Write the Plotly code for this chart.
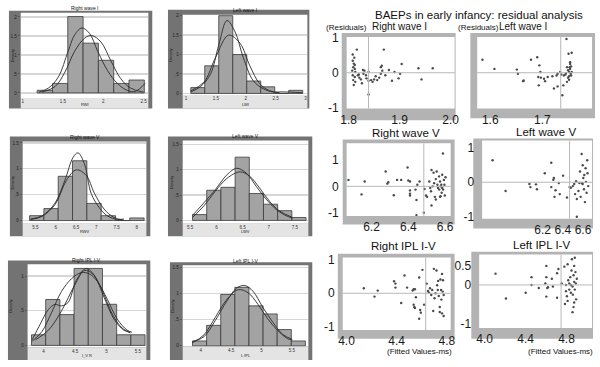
import plotly.graph_objects as go

# ---------------- data: histograms (density) ----------------
hist_titles = ["Right wave I", "Left wave I", "Right wave V", "Left wave V", "Right IPL I-V", "Left IPL I-V"]
hist_xtitles = ["RWI", "LWI", "RWV", "LWV", "I_V R", "L IPL"]

rw1_edges = [1.18, 1.37, 1.56, 1.75, 1.94, 2.13, 2.32, 2.51]
rw1_dens = [0.07, 0.25, 2.01, 1.31, 0.86, 0.25, 0.34]
rw1_c1x = [1.199, 1.321, 1.443, 1.565, 1.646, 1.736, 1.829, 1.931, 2.053, 2.175, 2.297, 2.398, 2.520]
rw1_c1y = [0.02, 0.13, 0.42, 1.10, 1.53, 1.71, 1.57, 1.10, 0.59, 0.25, 0.07, 0.04, 0.25]
rw1_c2x = [1.240, 1.403, 1.525, 1.646, 1.768, 1.858, 1.972, 2.094, 2.216, 2.338, 2.500]
rw1_c2y = [0.02, 0.17, 0.55, 1.10, 1.44, 1.51, 1.34, 0.85, 0.38, 0.13, 0.02]

lw1_edges = [1.08, 1.314, 1.548, 1.782, 2.016, 2.25, 2.484, 2.718, 2.952]
lw1_dens = [0.15, 0.71, 2.0, 1.0, 0.32, 0.17, 0.0, 0.08]
lw1_c1x = [1.082, 1.247, 1.411, 1.548, 1.685, 1.822, 1.959, 2.123, 2.288, 2.452, 2.616, 2.945]
lw1_c1y = [0.04, 0.18, 0.50, 1.25, 1.875, 1.58, 0.92, 0.33, 0.125, 0.04, 0.04, 0.02]
lw1_c2x = [1.082, 1.301, 1.493, 1.712, 1.904, 2.068, 2.233, 2.397, 2.562]
lw1_c2y = [0.07, 0.29, 0.92, 1.50, 1.29, 0.71, 0.25, 0.07, 0.02]

rw5_edges = [5.355, 5.708, 6.061, 6.414, 6.767, 7.12, 7.473, 7.826, 8.179]
rw5_dens = [0.094, 0.231, 0.856, 1.156, 0.331, 0.094, 0.0, 0.05]
rw5_c1x = [5.379, 5.661, 5.984, 6.226, 6.427, 6.548, 6.710, 6.871, 7.073, 7.274, 7.516, 7.677]
rw5_c1y = [0.03, 0.09, 0.34, 0.78, 1.22, 1.31, 1.09, 0.53, 0.25, 0.09, 0.02, 0.03]
rw5_c2x = [5.379, 5.661, 5.984, 6.266, 6.508, 6.750, 6.952, 7.194, 7.435, 7.677]
rw5_c2y = [0.02, 0.08, 0.31, 0.78, 0.98, 0.875, 0.53, 0.22, 0.06, 0.01]

lw5_edges = [5.544, 5.815, 6.086, 6.357, 6.628, 6.899, 7.17, 7.441, 7.712]
lw5_dens = [0.115, 0.596, 0.654, 1.25, 0.532, 0.32, 0.192, 0.058]
lw5_c1x = [5.544, 5.763, 5.981, 6.200, 6.388, 6.575, 6.763, 6.950, 7.138, 7.356, 7.450]
lw5_c1y = [0.10, 0.35, 0.61, 0.90, 1.03, 0.93, 0.67, 0.42, 0.22, 0.08, 0.05]
lw5_c2x = [5.544, 5.763, 5.981, 6.200, 6.450, 6.638, 6.825, 7.013, 7.200, 7.450]
lw5_c2y = [0.06, 0.29, 0.58, 0.83, 0.96, 0.87, 0.64, 0.38, 0.19, 0.06]

ripl_edges = [3.807, 4.033, 4.259, 4.485, 4.711, 4.937, 5.163, 5.389, 5.615]
ripl_dens = [0.153, 0.662, 0.444, 1.11, 1.11, 0.593, 0.153, 0.153]
ripl_c1x = [3.818, 3.948, 4.078, 4.182, 4.286, 4.391, 4.521, 4.677, 4.807, 4.964, 5.120, 5.276, 5.380]
ripl_c1y = [0.08, 0.31, 0.52, 0.59, 0.57, 0.62, 0.94, 1.11, 1.01, 0.69, 0.38, 0.22, 0.19]
ripl_c2x = [3.818, 3.974, 4.130, 4.286, 4.443, 4.599, 4.729, 4.859, 5.016, 5.172, 5.328, 5.406]
ripl_c2y = [0.06, 0.20, 0.48, 0.78, 0.96, 1.05, 1.03, 0.92, 0.66, 0.38, 0.22, 0.19]
ripl_c3x = [3.870, 4.078, 4.286, 4.495, 4.651, 4.781, 4.938, 5.094, 5.250, 5.380]
ripl_c3y = [0.08, 0.22, 0.50, 0.87, 1.08, 1.03, 0.78, 0.45, 0.25, 0.18]

lipl_edges = [3.866, 4.098, 4.33, 4.562, 4.794, 5.026, 5.258, 5.49, 5.722]
lipl_dens = [0.094, 0.394, 0.988, 1.125, 0.769, 0.613, 0.313, 0.094]
lipl_c1x = [3.866, 4.054, 4.242, 4.430, 4.591, 4.726, 4.860, 5.022, 5.183, 5.344, 5.505]
lipl_c1y = [0.08, 0.175, 0.49, 0.86, 1.11, 1.16, 1.05, 0.74, 0.46, 0.225, 0.125]
lipl_c2x = [3.866, 4.054, 4.242, 4.430, 4.618, 4.780, 4.941, 5.102, 5.263, 5.425, 5.505]
lipl_c2y = [0.06, 0.21, 0.55, 0.89, 1.08, 1.02, 0.80, 0.52, 0.30, 0.14, 0.11]

hist_x_ticks = [[1, 1.5, 2, 2.5], [1, 1.5, 2, 2.5, 3], [5.5, 6, 6.5, 7, 7.5, 8],
                [5.5, 6, 6.5, 7, 7.5], [4, 4.5, 5, 5.5], [4, 4.5, 5, 5.5]]
hist_x_ticktext = [["1", "1.5", "2", "2.5"], ["1", "1.5", "2", "2.5", "3"], ["5.5", "6", "6.5", "7", "7.5", "8"],
                   ["5.5", "6", "6.5", "7", "7.5"], ["4", "4.5", "5", "5.5"], ["4", "4.5", "5", "5.5"]]
hist_y_ticks = [[0, 0.5, 1, 1.5, 2], [0, 0.5, 1, 1.5, 2], [0, 0.5, 1, 1.5],
                [0, 0.5, 1, 1.5], [0, 0.5, 1], [0, 0.5, 1, 1.5]]
hist_y_ticktext = [["0", ".5", "1", "1.5", "2"], ["0", ".5", "1", "1.5", "2"], ["0", ".5", "1", "1.5"],
                   ["0", ".5", "1", "1.5"], ["0", ".5", "1"], ["0", ".5", "1", "1.5"]]

# ---------------- data: residual scatter plots ----------------
scatter_titles = ["Right wave I", "Left wave I", "Right wave V", "Left wave V", "Right IPL I-V", "Left IPL I-V"]

rw1_fit = [1.816, 1.808, 1.811, 1.808, 1.810, 1.812, 1.809, 1.812, 1.807, 1.813, 1.808, 1.812, 1.809, 1.813,
           1.810, 1.818, 1.820, 1.821, 1.824, 1.826, 1.828, 1.831, 1.829, 1.834, 1.835, 1.839, 1.839, 1.844,
           1.847, 1.850, 1.853, 1.856, 1.860, 1.863, 1.863, 1.865, 1.866, 1.869, 1.872, 1.879, 1.885, 1.890,
           1.898, 1.901, 1.904, 1.937, 1.943, 1.965, 1.839]
rw1_res = [0.66, 0.52, 0.43, 0.34, 0.26, 0.22, 0.16, 0.11, 0.06, 0.02, -0.07, -0.12, -0.21, -0.26,
           -0.35, -0.07, -0.05, -0.14, -0.19, -0.30, 0.08, 0.06, -0.03, -0.07, -0.16, -0.23, 0.02, -0.21,
           -0.26, -0.19, -0.10, -0.21, -0.14, -0.03, 0.16, 0.20, 0.06, 0.66, -0.07, 0.08, -0.23, 0.02,
           -0.16, -0.03, 0.25, 0.13, -0.19, 0.13, -0.62]

lw1_fit = [1.585, 1.608, 1.651, 1.653, 1.663, 1.664, 1.678, 1.690, 1.694, 1.696, 1.692, 1.697, 1.693, 1.703,
           1.705, 1.710, 1.719, 1.722, 1.727, 1.729, 1.729, 1.734, 1.736, 1.738, 1.740, 1.744, 1.746, 1.747,
           1.749, 1.750, 1.751, 1.751, 1.752, 1.753, 1.753, 1.754, 1.755, 1.756, 1.756, 1.755, 1.751, 1.747,
           1.745, 1.749, 1.753, 1.741]
lw1_res = [0.37, 0.11, 0.09, -0.03, -0.24, -0.22, 0.37, 0.44, 0.21, 0.02, -0.12, -0.14, -0.36, -0.17,
           -0.24, -0.12, -0.10, -0.45, -0.08, -0.39, -0.03, 0.02, -0.05, -0.64, -0.36, -0.05, 0.96, -0.26,
           0.07, 0.54, -0.20, 0.02, 0.16, 0.25, 0.11, -0.03, 0.18, 0.57, 0.02, -0.08, -0.10, 0.16,
           -0.01, -0.14, 0.30, -0.08]

rw5_fit = [6.075, 6.146, 6.163, 6.277, 6.286, 6.291, 6.321, 6.339, 6.361, 6.396, 6.400, 6.409, 6.409, 6.409,
           6.409, 6.439, 6.444, 6.449, 6.461, 6.444, 6.484, 6.488, 6.496, 6.502, 6.514, 6.519, 6.523, 6.526,
           6.532, 6.537, 6.540, 6.544, 6.549, 6.549, 6.554, 6.558, 6.561, 6.567, 6.568, 6.572, 6.575, 6.575,
           6.579, 6.581, 6.584, 6.584, 6.588, 6.589, 6.593, 6.596, 6.598, 6.602, 6.526, 6.572]
rw5_res = [0.24, -0.30, 0.18, 0.55, 0.10, 0.15, -0.33, 0.24, 0.24, 0.70, 0.22, 0.18, -0.15, -0.27,
           -0.34, -0.12, -0.51, 0.06, 0.18, -1.07, -0.98, -0.10, -0.34, -0.39, 0.18, -0.06, -0.18, 0.61,
           0.00, 0.51, 0.12, -0.39, -0.49, 0.27, 0.55, 0.06, -0.06, 0.37, -0.12, 0.18, 0.00, -0.37,
           0.06, -0.24, -0.06, 0.43, 1.22, -0.12, 0.24, 0.06, -0.34, 0.34, -0.71, -0.39]

lw5_fit = [5.704, 5.833, 6.069, 6.079, 6.134, 6.144, 6.221, 6.286, 6.286, 6.306, 6.312, 6.318, 6.328, 6.360,
           6.370, 6.403, 6.441, 6.467, 6.480, 6.500, 6.513, 6.522, 6.532, 6.539, 6.539, 6.555, 6.564, 6.571,
           6.577, 6.587, 6.590, 6.597, 6.603, 6.610, 6.613, 6.619, 6.626, 6.629, 6.636, 6.642, 6.645, 6.652,
           6.597]
lw5_res = [0.63, -0.25, -0.05, -0.14, -0.06, -0.20, 0.26, 0.56, -0.14, 0.07, 0.12, -0.42, -0.23, -0.02,
           -0.34, 0.19, -0.44, -0.14, -0.16, -0.11, -0.05, -0.34, 0.03, -0.48, -0.99, -0.25, -0.02, 0.31,
           -0.42, 0.81, -0.02, -0.05, 0.12, -0.20, 0.21, -0.57, 0.40, 0.01, -0.30, 0.63, 0.26, -0.11,
           0.49]

ripl_fit = [4.138, 4.223, 4.249, 4.379, 4.390, 4.390, 4.436, 4.462, 4.483, 4.527, 4.535, 4.545, 4.535, 4.540,
            4.545, 4.553, 4.579, 4.579, 4.587, 4.592, 4.605, 4.618, 4.639, 4.649, 4.657, 4.665, 4.675, 4.683,
            4.691, 4.696, 4.701, 4.709, 4.717, 4.722, 4.727, 4.730, 4.735, 4.743, 4.748, 4.753, 4.756, 4.761,
            4.761, 4.766, 4.769, 4.774, 4.774, 4.743]
ripl_res = [0.15, -0.10, 0.08, 0.36, 0.17, 0.29, -0.29, 0.53, 0.17, 0.08, 0.12, 0.12, -0.34, -0.41,
            -0.44, -0.12, 0.47, -0.76, -0.50, -0.58, 0.70, -0.34, 0.29, 0.07, 0.02, 0.15, -0.05, 0.10,
            -0.53, 0.73, -0.15, 0.00, 0.68, 0.24, 0.10, 0.37, -0.08, -0.41, 0.41, 0.10, -0.19, 0.58,
            -0.60, 0.05, 0.39, -0.05, -0.68, -0.56]

lipl_fit = [4.106, 4.208, 4.401, 4.458, 4.458, 4.529, 4.593, 4.603, 4.603, 4.612, 4.619, 4.603, 4.657, 4.667,
            4.708, 4.708, 4.721, 4.753, 4.779, 4.811, 4.817, 4.827, 4.837, 4.843, 4.849, 4.853, 4.859, 4.862,
            4.869, 4.875, 4.875, 4.881, 4.881, 4.888, 4.891, 4.894, 4.901, 4.795, 4.785, 4.804, 4.811, 4.859,
            4.869, 4.875, 4.843, 4.827, 4.795]
lipl_res = [0.29, -0.35, -0.20, 0.20, 0.00, -0.08, 0.04, 0.49, 0.20, -0.08, -0.06, -0.30, 0.16, -0.04,
            0.30, -0.33, 0.41, 0.04, 0.47, 0.53, 0.12, -0.12, 0.20, 0.00, 0.37, 0.66, -0.04, -0.25,
            0.25, 0.49, 0.08, -0.12, 0.70, 0.33, 0.04, -0.37, 0.16, -0.16, -0.49, -0.29, -0.41, -0.70,
            -0.57, -0.45, -0.20, 0.04, 0.00]

scatter_ref_x = [1.839, 1.735, 6.484, 6.467, 4.631, 4.747]
scatter_x_ticks = [[1.8, 1.9, 2.0], [1.6, 1.7, 1.8], [6.2, 6.4, 6.6], [6.2, 6.4, 6.6], [4.0, 4.4, 4.8], [4.0, 4.4, 4.8]]
scatter_x_ticktext = [["1.8", "1.9", "2.0"], ["1.6", "1.7", "1.8"], ["6.2", "6.4", "6.6"],
                      ["6.2", "6.4", "6.6"], ["4.0", "4.4", "4.8"], ["4.0", "4.4", "4.8"]]
scatter_y_ticks = [[-1, 0, 1], [], [-1, 0, 1], [-1, 0, 1], [-1, 0, 1], [-1, 0, 0.5]]
scatter_y_ticktext = [["-1", "0", "1"], [], ["-1", "0", "1"], ["-1", "0", "1"], ["-1", "0", "1"], ["-1", "0", "0.5"]]

main_title = "BAEPs in early infancy: residual analysis"

# ---------------- layout geometry (pixels) ----------------
W, H = 600, 367
SANS = "Liberation Sans, Arial, Helvetica, sans-serif"

hist_geo = [
    dict(frame=(3, 5, 149, 106), plot=(15, 7, 145, 95), xr=[0.976, 2.56], yr=[-0.13, 2.11]),
    dict(frame=(165, 4, 309, 106), plot=(180, 9, 307, 92), xr=[0.945, 3.03], yr=[-0.04, 2.025]),
    dict(frame=(4, 135, 147, 238), plot=(17, 140, 143, 225), xr=[5.185, 8.235], yr=[-0.06, 1.53]),
    dict(frame=(165, 135, 312, 238), plot=(180, 139, 308, 225), xr=[5.356, 7.756], yr=[-0.064, 1.58]),
    dict(frame=(2, 263, 147, 366), plot=(22, 267, 143, 353), xr=[3.745, 5.636], yr=[-0.03, 1.17]),
    dict(frame=(167, 265, 312, 366), plot=(180, 268, 308, 352), xr=[3.705, 5.77], yr=[-0.0125, 1.55]),
]
scat_geo = [
    dict(frame=(342, 28, 458, 118), plot=(347, 32, 457, 106), xr=[1.796, 2.008], yr=[-1.02, 1.02]),
    dict(frame=(473, 28, 600, 116), plot=(480, 32, 597, 106), xr=[1.575, 1.795], yr=[-1.02, 1.02]),
    dict(frame=(343, 138, 457, 226), plot=(347, 142, 453, 217), xr=[6.065, 6.63], yr=[-1.1, 1.6]),
    dict(frame=(476, 137, 598, 230), plot=(485, 139, 597, 220), xr=[5.6, 6.69], yr=[-1.05, 1.2]),
    dict(frame=(338, 256, 457, 344), plot=(343, 260, 453, 335), xr=[3.97, 4.83], yr=[-1.1, 1.07]),
    dict(frame=(474, 254, 598, 344), plot=(482, 257, 597, 333), xr=[3.946, 5.05], yr=[-1.11, 0.78]),
]

hist_data = [
    (rw1_edges, rw1_dens, [(rw1_c1x, rw1_c1y), (rw1_c2x, rw1_c2y)]),
    (lw1_edges, lw1_dens, [(lw1_c1x, lw1_c1y), (lw1_c2x, lw1_c2y)]),
    (rw5_edges, rw5_dens, [(rw5_c1x, rw5_c1y), (rw5_c2x, rw5_c2y)]),
    (lw5_edges, lw5_dens, [(lw5_c1x, lw5_c1y), (lw5_c2x, lw5_c2y)]),
    (ripl_edges, ripl_dens, [(ripl_c1x, ripl_c1y), (ripl_c2x, ripl_c2y), (ripl_c3x, ripl_c3y)]),
    (lipl_edges, lipl_dens, [(lipl_c1x, lipl_c1y), (lipl_c2x, lipl_c2y)]),
]
scat_data = [(rw1_fit, rw1_res), (lw1_fit, lw1_res), (rw5_fit, rw5_res),
             (lw5_fit, lw5_res), (ripl_fit, ripl_res), (lipl_fit, lipl_res)]


def px(x):
    return x / W


def py(y):
    return 1 - y / H


def rect(x0, y0, x1, y1, color):
    return dict(type="rect", xref="paper", yref="paper", x0=px(x0), x1=px(x1),
                y0=py(y1), y1=py(y0), fillcolor=color, line=dict(width=0), layer="below")


fig = go.Figure()
shapes = []
annotations = []
layout_axes = {}


def axnames(idx):
    return ("xaxis" if idx == 1 else f"xaxis{idx}", "yaxis" if idx == 1 else f"yaxis{idx}",
            "x" if idx == 1 else f"x{idx}", "y" if idx == 1 else f"y{idx}")


# histograms
for k in range(6):
    idx = k + 1
    xa, ya, xr_, yr_ = axnames(idx)
    g = hist_geo[k]
    fx0, fy0, fx1, fy1 = g["frame"]
    x0, y0, x1, y1 = g["plot"]
    shapes.append(rect(fx0, fy0, fx1, fy1, "#737373"))
    shapes.append(rect(x0, y0, x1, y1, "#ffffff"))
    shapes.append(rect(x0, y1, x1, fy1, "#e4e4e4"))
    edges, dens, curves = hist_data[k]
    fig.add_trace(go.Bar(x=edges[:-1], y=dens, width=[b - a for a, b in zip(edges[:-1], edges[1:])],
                         offset=0, marker=dict(color="#a3a3a3", line=dict(color="#3a3a3a", width=0.8)),
                         xaxis=xr_, yaxis=yr_, showlegend=False, hoverinfo="skip"))
    for cx, cy in curves:
        fig.add_trace(go.Scatter(x=cx, y=cy, mode="lines", line=dict(color="#2b2b2b", width=0.9, shape="spline"),
                                 xaxis=xr_, yaxis=yr_, showlegend=False, hoverinfo="skip"))
    layout_axes[xa] = dict(domain=[px(x0), px(x1)], range=g["xr"], anchor=yr_, showgrid=False, zeroline=False,
                           tickvals=hist_x_ticks[k], ticktext=hist_x_ticktext[k], ticks="",
                           ticklabelstandoff=0, tickangle=0,
                           tickfont=dict(size=4.5, color="#333", family=SANS),
                           showline=False, fixedrange=True)
    layout_axes[ya] = dict(domain=[py(y1), py(y0)], range=g["yr"], anchor=xr_, showgrid=True,
                           gridcolor="#d6d6d6", gridwidth=1.3, zeroline=False,
                           tickvals=hist_y_ticks[k], ticktext=hist_y_ticktext[k], ticks="outside", ticklen=2,
                           tickcolor="#555", tickfont=dict(size=4.5, color="#222", family=SANS),
                           showline=False, fixedrange=True)
    annotations.append(dict(text=hist_titles[k], xref="paper", yref="paper", x=px((x0 + x1) / 2), y=py(y0 + 0.5),
                            xanchor="center", yanchor="bottom", showarrow=False,
                            font=dict(size=5, color="#111", family=SANS)))
    annotations.append(dict(text=hist_xtitles[k], xref="paper", yref="paper", x=px((x0 + x1) / 2), y=py(fy1),
                            xanchor="center", yanchor="bottom", showarrow=False,
                            font=dict(size=4, color="#222", family=SANS)))
    annotations.append(dict(text="Density", xref="paper", yref="paper", x=px(fx0 + 3), y=py((y0 + y1) / 2),
                            xanchor="center", yanchor="middle", showarrow=False, textangle=-90,
                            font=dict(size=4, color="#222", family=SANS)))

# residual scatter plots
for k in range(6):
    idx = k + 7
    xa, ya, xr_, yr_ = axnames(idx)
    g = scat_geo[k]
    fx0, fy0, fx1, fy1 = g["frame"]
    x0, y0, x1, y1 = g["plot"]
    shapes.append(rect(fx0, fy0, fx1, fy1, "#b3b3b3"))
    shapes.append(rect(x0, y0, x1, y1, "#ffffff"))
    fx, fr = scat_data[k]
    fig.add_trace(go.Scatter(x=fx, y=fr, mode="markers",
                             marker=dict(size=2.4, color="#4a4a4a", symbol="circle"),
                             xaxis=xr_, yaxis=yr_, showlegend=False, hoverinfo="skip"))
    shapes.append(dict(type="line", xref=f"{xr_} domain", yref=yr_, x0=0, x1=1, y0=0, y1=0,
                       line=dict(color="#b8b8b8", width=1)))
    shapes.append(dict(type="line", xref=xr_, yref=f"{yr_} domain", x0=scatter_ref_x[k], x1=scatter_ref_x[k],
                       y0=0, y1=1, line=dict(color="#b8b8b8", width=1)))
    layout_axes[xa] = dict(domain=[px(x0), px(x1)], range=g["xr"], anchor=yr_, showgrid=False, zeroline=False,
                           tickvals=scatter_x_ticks[k], ticktext=scatter_x_ticktext[k], ticks="",
                           tickangle=0, ticklabelstandoff=2,
                           tickfont=dict(size=12, color="#1a1a1a", family=SANS),
                           showline=False, fixedrange=True)
    layout_axes[ya] = dict(domain=[py(y1), py(y0)], range=g["yr"], anchor=xr_, showgrid=False, zeroline=False,
                           tickvals=scatter_y_ticks[k], ticktext=scatter_y_ticktext[k], ticks="",
                           ticklabelstandoff=7, tickfont=dict(size=12, color="#1a1a1a", family=SANS),
                           showline=False, fixedrange=True)

scat_title_pos = [(401, 21), (527, 21), (407, 131), (550, 130), (405, 248), (545, 247)]
scat_title_size = [10, 10, 11.5, 11.5, 11.5, 11.5]
for k in range(6):
    tx, ty = scat_title_pos[k]
    annotations.append(dict(text=scatter_titles[k], xref="paper", yref="paper", x=px(tx), y=py(ty),
                            xanchor="center", yanchor="middle", showarrow=False,
                            font=dict(size=scat_title_size[k], color="#111", family=SANS)))

annotations.append(dict(text=main_title, xref="paper", yref="paper", x=px(482), y=py(9),
                        xanchor="center", yanchor="middle", showarrow=False,
                        font=dict(size=11.5, color="#111", family=SANS)))
for tx in (347, 481):
    annotations.append(dict(text="(Residuals)", xref="paper", yref="paper", x=px(tx), y=py(22),
                            xanchor="center", yanchor="middle", showarrow=False,
                            font=dict(size=8, color="#111", family=SANS)))
for tx in (421, 565):
    annotations.append(dict(text="(Fitted Values-ms)", xref="paper", yref="paper", x=px(tx), y=py(357),
                            xanchor="center", yanchor="middle", showarrow=False,
                            font=dict(size=8, color="#111", family=SANS)))

fig.update_layout(width=W, height=H, margin=dict(l=0, r=0, t=0, b=0), paper_bgcolor="#ffffff",
                  plot_bgcolor="rgba(0,0,0,0)", shapes=shapes, annotations=annotations,
                  bargap=0, showlegend=False, **layout_axes)

fig.write_html("out.html", config={"displayModeBar": False, "staticPlot": True},
               post_script="document.body.style.margin='0px';document.body.style.padding='0px';")
